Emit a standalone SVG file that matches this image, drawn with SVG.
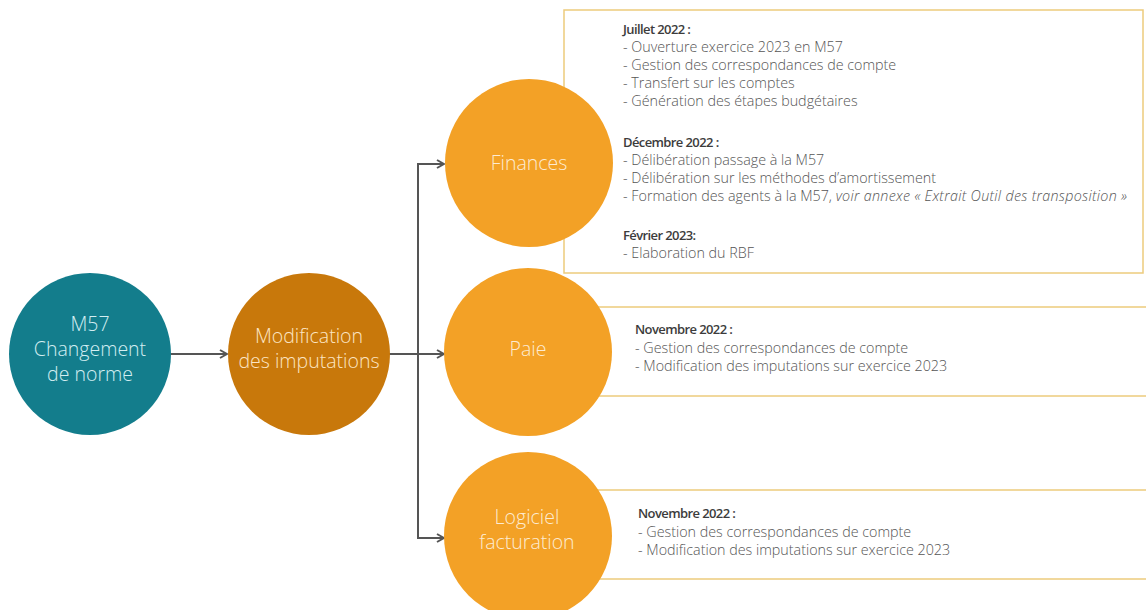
<svg xmlns="http://www.w3.org/2000/svg" width="1146" height="610" viewBox="0 0 1146 610">
<style>
.box{fill:#fff;stroke:#EDCB7C;stroke-width:1.5}
.t{font-family:"Open Sans","Noto Sans","Liberation Sans",sans-serif;font-weight:300;font-size:14.3px;fill:#555}
.h{font-family:"Open Sans","Noto Sans","Liberation Sans",sans-serif;font-weight:600;font-size:13px;fill:#3c3c3c;letter-spacing:-0.6px}
.c{font-family:"Open Sans","Noto Sans","Liberation Sans",sans-serif;font-weight:300;font-size:19.5px;text-anchor:middle}
.con{fill:none;stroke:#555;stroke-width:2}
</style>
<defs>
<marker id="arr" viewBox="0 0 10 10" refX="9" refY="5" markerWidth="5" markerHeight="5" orient="auto" markerUnits="strokeWidth">
<polyline points="2,1 9,5 2,9" fill="none" stroke="#555" stroke-width="2"/>
</marker>
</defs>
<rect width="1146" height="610" fill="#fff"/>
<g id="box-finances">
<rect class="box" x="564" y="10" width="579" height="263"/>
<text class="h" x="623" y="34">Juillet 2022 :</text>
<text class="t" x="623" y="52">- Ouverture exercice 2023 en M57</text>
<text class="t" x="623" y="70">- Gestion des correspondances de compte</text>
<text class="t" x="623" y="88">- Transfert sur les comptes</text>
<text class="t" x="623" y="106">- Génération des étapes budgétaires</text>
<text class="h" x="623" y="147">Décembre 2022 :</text>
<text class="t" x="623" y="165">- Délibération passage à la M57</text>
<text class="t" x="623" y="183">- Délibération sur les méthodes d’amortissement</text>
<text class="t" x="623" y="201">- Formation des agents à la M57, <tspan font-style="italic" letter-spacing="0.3">voir annexe « Extrait Outil des transposition »</tspan></text>
<text class="h" x="623" y="240">Février 2023:</text>
<text class="t" x="623" y="258">- Elaboration du RBF</text>
</g>
<g id="box-paie">
<rect class="box" x="564" y="307" width="590" height="89"/>
<text class="h" x="635" y="334">Novembre 2022 :</text>
<text class="t" x="635" y="353">- Gestion des correspondances de compte</text>
<text class="t" x="635" y="371">- Modification des imputations sur exercice 2023</text>
</g>
<g id="box-logiciel">
<rect class="box" x="564" y="490" width="590" height="89"/>
<text class="h" x="638" y="518">Novembre 2022 :</text>
<text class="t" x="638" y="537">- Gestion des correspondances de compte</text>
<text class="t" x="638" y="555">- Modification des imputations sur exercice 2023</text>
</g>
<g id="connectors">
<line class="con" x1="171" y1="354" x2="227" y2="354" marker-end="url(#arr)"/>
<line class="con" x1="389" y1="354" x2="444" y2="354" marker-end="url(#arr)"/>
<line class="con" x1="418" y1="163" x2="418" y2="539"/>
<line class="con" x1="417" y1="164" x2="444" y2="164" marker-end="url(#arr)"/>
<line class="con" x1="417" y1="538" x2="444" y2="538" marker-end="url(#arr)"/>
</g>
<g id="node-m57">
<circle cx="90" cy="354" r="81" fill="#137D8C"/>
<text class="c" fill="#D3EEF2" x="90" y="331">M57</text>
<text class="c" fill="#D3EEF2" x="90" y="356">Changement</text>
<text class="c" fill="#D3EEF2" x="90" y="381">de norme</text>
</g>
<g id="node-modification">
<circle cx="309" cy="354" r="81" fill="#C8780B"/>
<text class="c" fill="#FCE5C3" x="309" y="343">Modification</text>
<text class="c" fill="#FCE5C3" x="309" y="368">des imputations</text>
</g>
<g id="node-finances">
<circle cx="529" cy="163" r="84" fill="#F3A126"/>
<text class="c" fill="#FDEBD2" x="529" y="170">Finances</text>
</g>
<g id="node-paie">
<circle cx="528" cy="352" r="84" fill="#F3A126"/>
<text class="c" fill="#FDEBD2" x="528" y="356">Paie</text>
</g>
<g id="node-logiciel">
<circle cx="528" cy="536" r="84" fill="#F3A126"/>
<text class="c" fill="#FDEBD2" x="527" y="524">Logiciel</text>
<text class="c" fill="#FDEBD2" x="527" y="549">facturation</text>
</g>
</svg>
